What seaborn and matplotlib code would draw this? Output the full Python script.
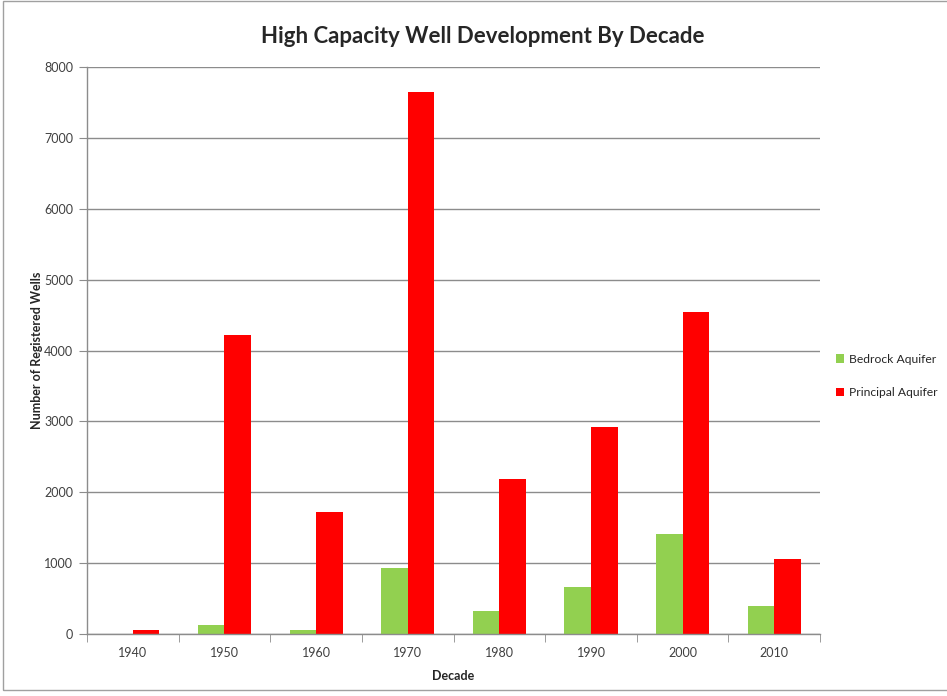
import matplotlib
matplotlib.use("Agg")
import matplotlib.pyplot as plt
import seaborn as sns
import pandas as pd
from matplotlib.patches import Rectangle

decades = ["1940", "1950", "1960", "1970", "1980", "1990", "2000", "2010"]
bedrock = [0, 130, 60, 930, 320, 660, 1410, 395]
principal = [60, 4220, 1720, 7650, 2190, 2920, 4550, 1060]
series_names = ["Bedrock Aquifer", "Principal Aquifer"]
colors = ["#92D050", "#FF0000"]

df = pd.DataFrame({
    "Decade": decades * 2,
    "Wells": bedrock + principal,
    "Series": [series_names[0]] * len(decades) + [series_names[1]] * len(decades),
})

sns.set_style("white")
plt.rcParams['font.family'] = ['Lato', 'DejaVu Sans']

fig = plt.figure(figsize=(9.47, 6.96), dpi=100)
ax = fig.add_axes([0.0919, 0.0891, 0.7741, 0.8146])

sns.barplot(data=df, x="Decade", y="Wells", hue="Series", order=decades,
            hue_order=series_names, palette=colors, width=0.58, ax=ax,
            saturation=1, errorbar=None, linewidth=0)

ax.set_ylim(0, 8000)
ax.set_xlim(-0.5, len(decades) - 0.5)
ax.set_yticks(range(0, 8001, 1000))
ax.yaxis.grid(True, color="#8c8c8c", linewidth=1)
ax.set_axisbelow(True)
for s in ["top", "right"]:
    ax.spines[s].set_visible(False)
for s in ["left", "bottom"]:
    ax.spines[s].set_color("#8c8c8c")
    ax.spines[s].set_linewidth(1)

ax.tick_params(axis="y", which="major", left=True, length=6, color="#8c8c8c",
               labelsize=9, labelcolor="#404040", pad=4)
ax.tick_params(axis="x", which="major", bottom=False, labelsize=9,
               labelcolor="#404040", pad=6)
ax.set_xticks([i + 0.5 for i in range(-1, len(decades))], minor=True)
ax.tick_params(axis="x", which="minor", bottom=True, length=6, color="#8c8c8c")

ax.set_xlabel("Decade", fontsize=9, fontweight="bold", labelpad=8)
ax.set_ylabel("Number of Registered Wells", fontsize=9, fontweight="bold", labelpad=1)

fig.suptitle("High Capacity Well Development By Decade", fontsize=16,
             fontweight="bold", x=0.51, y=0.962)

leg = ax.legend(loc="center left", bbox_to_anchor=(1.015, 0.455), frameon=False,
                fontsize=8.7, handlelength=0.7, handleheight=0.7,
                handletextpad=0.4, labelspacing=1.9, borderaxespad=0)

fig.patches.append(Rectangle((0.003, 0.008), 1.2, 0.99, transform=fig.transFigure,
                             fill=False, edgecolor="#a0a0a0", linewidth=1))

fig.savefig("out.png", dpi=100)
